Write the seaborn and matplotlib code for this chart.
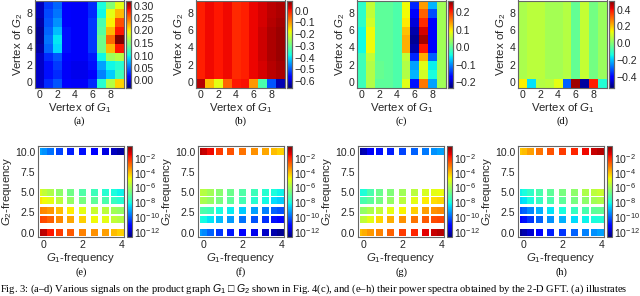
import numpy as np
import pandas as pd
import seaborn as sns
import matplotlib.pyplot as plt
from matplotlib.colors import LogNorm
from matplotlib.cm import ScalarMappable
from matplotlib.ticker import FixedLocator, LogFormatterMathtext, NullLocator

sns.set_style('white', {'axes.edgecolor': '0.4', 'axes.linewidth': 1.0})
plt.rcParams['font.family'] = ['Liberation Sans', 'DejaVu Sans']
plt.rcParams['mathtext.fontset'] = 'custom'
plt.rcParams['mathtext.rm'] = 'Liberation Sans'
plt.rcParams['mathtext.it'] = 'Liberation Sans:italic'
plt.rcParams['text.color'] = '0.15'
plt.rcParams['xtick.color'] = '0.15'
plt.rcParams['ytick.color'] = '0.15'

jet = plt.get_cmap('jet')

# ---- signals on G1 x G2 (rows = vertex of G2, 0 at bottom; cols = vertex of G1)
sig_a = [
    [-0.005, 0.030, 0.045, 0.015, 0.010, 0.010, 0.030, 0.110, 0.170, 0.210],
    [-0.005, 0.020, 0.030, 0.010, 0.005, 0.005, 0.015, 0.060, 0.085, 0.120],
    [-0.005, 0.020, 0.035, 0.010, 0.005, 0.005, 0.020, 0.070, 0.100, 0.110],
    [-0.005, 0.030, 0.045, 0.015, 0.010, 0.010, 0.025, 0.100, 0.160, 0.170],
    [-0.015, 0.050, 0.090, 0.020, 0.010, 0.010, 0.035, 0.140, 0.220, 0.280],
    [-0.020, 0.055, 0.095, 0.020, 0.010, 0.010, 0.035, 0.140, 0.250, 0.320],
    [-0.020, 0.050, 0.080, 0.020, 0.010, 0.010, 0.035, 0.130, 0.220, 0.280],
    [-0.015, 0.045, 0.065, 0.015, 0.010, 0.010, 0.035, 0.125, 0.200, 0.260],
    [-0.010, 0.040, 0.055, 0.015, 0.010, 0.010, 0.030, 0.100, 0.190, 0.220],
    [-0.010, 0.035, 0.050, 0.015, 0.010, 0.010, 0.030, 0.105, 0.150, 0.190],
]
sig_b = [
    [0.050, -0.130, -0.190, -0.060, 0.000, 0.005, -0.100, -0.330, -0.500, -0.620],
    [-0.005, 0.010, 0.000, 0.010, -0.015, -0.005, 0.015, 0.030, 0.045, 0.055],
    [-0.005, 0.010, 0.000, 0.010, -0.015, -0.005, 0.015, 0.030, 0.050, 0.060],
    [-0.005, 0.010, 0.000, 0.010, -0.015, -0.005, 0.015, 0.035, 0.055, 0.065],
    [-0.005, 0.010, 0.000, 0.010, -0.015, -0.005, 0.015, 0.035, 0.055, 0.065],
    [-0.005, 0.010, 0.000, 0.010, -0.015, -0.005, 0.015, 0.035, 0.055, 0.065],
    [-0.005, 0.010, 0.000, 0.010, -0.015, -0.005, 0.015, 0.035, 0.055, 0.065],
    [-0.005, 0.010, 0.000, 0.010, -0.015, -0.005, 0.015, 0.030, 0.050, 0.060],
    [-0.005, 0.010, 0.000, 0.010, -0.015, -0.005, 0.015, 0.030, 0.045, 0.055],
    [-0.005, 0.010, 0.000, 0.010, -0.015, -0.005, 0.015, 0.030, 0.045, 0.055],
]
sig_c = [
    [-0.020, 0.050, 0.000, 0.000, -0.010, 0.080, -0.160, 0.160, -0.090, 0.040],
    [-0.020, 0.050, 0.005, 0.000, -0.010, 0.050, -0.080, 0.070, -0.040, 0.040],
    [-0.020, 0.050, 0.005, 0.000, -0.010, 0.050, -0.090, 0.080, -0.050, 0.040],
    [-0.020, 0.060, 0.000, 0.000, -0.010, 0.060, -0.150, 0.130, -0.120, 0.040],
    [-0.045, 0.090, 0.000, 0.000, -0.010, 0.130, -0.210, 0.210, -0.170, 0.040],
    [-0.045, 0.090, 0.000, 0.000, -0.010, 0.130, -0.220, 0.250, -0.170, 0.040],
    [-0.045, 0.090, 0.000, 0.000, -0.010, 0.120, -0.210, 0.230, -0.170, 0.040],
    [-0.030, 0.070, 0.000, 0.000, -0.010, 0.100, -0.190, 0.200, -0.170, 0.040],
    [-0.030, 0.060, 0.000, 0.000, -0.010, 0.090, -0.170, 0.170, -0.130, 0.040],
    [-0.030, 0.060, 0.000, 0.000, -0.010, 0.090, -0.150, 0.140, -0.080, 0.040],
]
row_d = [0.05, 0.07, 0.07, 0.04, 0.04, 0.06, -0.04, 0.08, -0.02, 0.03]
sig_d = [[0.15, -0.17, 0.06, 0.07, 0.12, -0.30, 0.48, -0.50, 0.38, -0.12]] + [row_d] * 9

sig_lims = [(-0.028, 0.32), (-0.654, 0.085), (-0.23, 0.267), (-0.53, 0.51)]
sig_ticks = [
    [0.00, 0.05, 0.10, 0.15, 0.20, 0.25, 0.30],
    [0.0, -0.1, -0.2, -0.3, -0.4, -0.5, -0.6],
    [-0.2, -0.1, 0.0, 0.1, 0.2],
    [-0.4, -0.2, 0.0, 0.2, 0.4],
]
sig_fmt = ['{:.2f}', '{:.1f}', '{:.1f}', '{:.1f}']

# ---- power spectra: log10 power, rows = G2 frequency, cols = G1 frequency
g1_freq = [0.0, 0.098, 0.382, 0.824, 1.382, 2.0, 2.618, 3.176, 3.618, 3.902]
g2_freq = [0.0, 1.57, 2.7, 4.0, 4.9, 10.0]
spec_e = [
    [-1.0, -1.1, -1.8, -2.3, -2.7, -3.2, -3.4, -3.6, -4.0, -4.2],
    [-2.4, -2.5, -2.8, -3.3, -3.7, -4.2, -4.8, -5.0, -5.5, -5.7],
    [-3.2, -3.3, -3.5, -4.0, -4.6, -5.0, -5.4, -5.6, -6.0, -6.2],
    [-4.5, -4.8, -5.0, -5.6, -6.2, -6.6, -7.0, -7.3, -7.6, -7.8],
    [-5.2, -5.5, -5.8, -6.3, -6.7, -7.2, -7.5, -7.8, -8.0, -8.2],
    [-9.2, -9.4, -9.8, -10.3, -10.8, -11.0, -11.2, -11.6, -12.0, -12.3],
]
spec_f = [
    [-9.3, -9.5, -10.0, -10.5, -10.9, -11.2, -11.5, -11.9, -12.2, -12.5],
    [-8.0, -8.1, -8.4, -8.9, -9.3, -9.8, -10.2, -10.6, -11.0, -11.2],
    [-7.2, -7.3, -7.5, -8.0, -8.3, -8.7, -9.2, -9.6, -10.0, -10.2],
    [-5.8, -5.9, -6.2, -6.6, -7.0, -7.4, -7.8, -8.1, -8.5, -8.7],
    [-5.6, -5.7, -6.0, -6.4, -6.8, -7.2, -7.5, -7.8, -8.0, -8.2],
    [-1.0, -1.2, -1.6, -2.3, -2.6, -3.0, -3.4, -3.7, -4.0, -4.2],
]
spec_g = [
    [-4.0, -3.8, -3.5, -3.2, -2.8, -2.3, -2.0, -1.5, -1.2, -1.0],
    [-5.6, -5.5, -5.0, -4.3, -3.8, -3.4, -3.0, -2.7, -2.5, -2.4],
    [-6.3, -6.2, -5.8, -5.5, -5.0, -4.7, -4.2, -3.6, -3.4, -3.3],
    [-7.4, -7.3, -7.0, -6.6, -6.2, -5.6, -5.0, -4.6, -4.4, -4.3],
    [-8.0, -7.9, -7.3, -6.8, -6.5, -6.0, -5.6, -5.2, -5.0, -4.9],
    [-12.3, -12.1, -11.4, -11.0, -10.8, -10.3, -10.0, -9.7, -9.4, -9.2],
]
spec_h = [
    [-12.5, -12.2, -11.8, -11.3, -10.8, -10.5, -10.0, -9.6, -9.4, -9.2],
    [-11.2, -11.0, -10.5, -10.0, -9.4, -9.0, -8.5, -8.2, -8.0, -7.9],
    [-10.2, -10.0, -9.5, -9.0, -8.4, -8.0, -7.6, -7.3, -7.0, -6.9],
    [-8.6, -8.4, -8.0, -7.6, -7.3, -7.0, -6.6, -6.3, -6.0, -5.8],
    [-8.2, -8.0, -7.7, -7.3, -7.0, -6.6, -6.3, -5.8, -5.6, -5.4],
    [-4.1, -4.0, -3.6, -3.0, -2.6, -2.3, -2.0, -1.6, -1.2, -1.0],
]
spec_lim = (2e-13, 4e-1)
spec_ticks = [1e-12, 1e-10, 1e-8, 1e-6, 1e-4, 1e-2]

top_labels = ['(a)', '(b)', '(c)', '(d)']
bot_labels = ['(e)', '(f)', '(g)', '(h)']
caption = ('Fig. 3: (a\u2013d) Various signals on the product graph $G_1$ \u25a1 $G_2$ shown in Fig. 4(c), '
           'and (e\u2013h) their power spectra obtained by the 2-D GFT. (a) illustrates')

W, H = 640, 296
fig = plt.figure(figsize=(W / 100, H / 100), dpi=100)

def box(x0, y0, w, h):
    return [x0 / W, 1 - (y0 + h) / H, w / W, h / H]

fs = 7.6
serif = ['Liberation Serif', 'DejaVu Serif']

for i, sig in enumerate([sig_a, sig_b, sig_c, sig_d]):
    x0 = 35 + i * 161
    ax = fig.add_axes(box(x0, 0.5, 89, 87))
    cax = fig.add_axes(box(x0 + 91, 0.5, 5, 87))
    vmin, vmax = sig_lims[i]
    sns.heatmap(np.array(sig), ax=ax, cbar_ax=cax, cmap=jet, vmin=vmin, vmax=vmax)
    ax.invert_yaxis()
    ax.set_xticks(np.arange(0, 10, 2) + 0.5)
    ax.set_xticklabels([str(v) for v in range(0, 10, 2)], rotation=0, fontsize=fs)
    ax.set_yticks(np.arange(0, 10, 2) + 0.5)
    ax.set_yticklabels([str(v) for v in range(0, 10, 2)], rotation=0, fontsize=fs)
    ax.tick_params(length=0, pad=2)
    for sp in ax.spines.values():
        sp.set_visible(True)
        sp.set_color('0.4')
    ax.set_xlabel('Vertex of $G_1$', fontsize=8.2, labelpad=1)
    ax.set_ylabel('Vertex of $G_2$', fontsize=8.2, labelpad=1)
    cax.yaxis.set_major_locator(FixedLocator(sig_ticks[i]))
    cax.set_yticklabels([sig_fmt[i].format(t).replace('-', '\u2212') for t in sig_ticks[i]])
    cax.tick_params(length=0, pad=2, labelsize=fs)
    for sp in cax.spines.values():
        sp.set_visible(True)
        sp.set_color('0.4')
        sp.set_linewidth(0.8)
    fig.text((x0 + 44.5) / W, 1 - 121 / H, top_labels[i], ha='center', va='center',
             fontsize=7.5, family=serif, color='black')

norm = LogNorm(vmin=spec_lim[0], vmax=spec_lim[1])
for i, spec in enumerate([spec_e, spec_f, spec_g, spec_h]):
    x0 = 38 + i * 160
    ax = fig.add_axes(box(x0, 146, 86, 91))
    cax = fig.add_axes(box(x0 + 89, 146, 4.5, 91))
    rows = []
    for r, g2 in enumerate(g2_freq):
        for c, g1 in enumerate(g1_freq):
            rows.append((g1, g2, 10 ** spec[r][c]))
    df = pd.DataFrame(rows, columns=['g1', 'g2', 'power'])
    sns.scatterplot(data=df, x='g1', y='g2', hue='power', hue_norm=norm, palette=jet,
                    marker='s', s=25, linewidth=0, legend=False, ax=ax)
    ax.set_xlim(-0.27, 4.1)
    ax.set_ylim(-0.55, 10.7)
    ax.set_xticks([0, 2, 4])
    ax.set_yticks([0, 2.5, 5, 7.5, 10])
    ax.set_yticklabels(['0.0', '2.5', '5.0', '7.5', '10.0'])
    ax.tick_params(length=0, pad=2, labelsize=fs)
    ax.set_xlabel('$G_1$-frequency', fontsize=8.2, labelpad=1)
    ax.set_ylabel('$G_2$-frequency', fontsize=8.2, labelpad=1)
    sm = ScalarMappable(norm=norm, cmap=jet)
    cb = fig.colorbar(sm, cax=cax)
    cb.outline.set_edgecolor('0.4')
    cb.outline.set_linewidth(0.8)
    cax.yaxis.set_major_locator(FixedLocator(spec_ticks))
    cax.yaxis.set_major_formatter(LogFormatterMathtext())
    cax.yaxis.set_minor_locator(NullLocator())
    cax.tick_params(length=0, pad=2, labelsize=fs)
    fig.text((x0 + 43) / W, 1 - 272 / H, bot_labels[i], ha='center', va='center',
             fontsize=7.5, family=serif, color='black')

fig.text(0.0, 1 - 289 / H, caption, ha='left', va='center', fontsize=7.6,
         family=serif, color='black')

fig.savefig('out.png', dpi=100)
